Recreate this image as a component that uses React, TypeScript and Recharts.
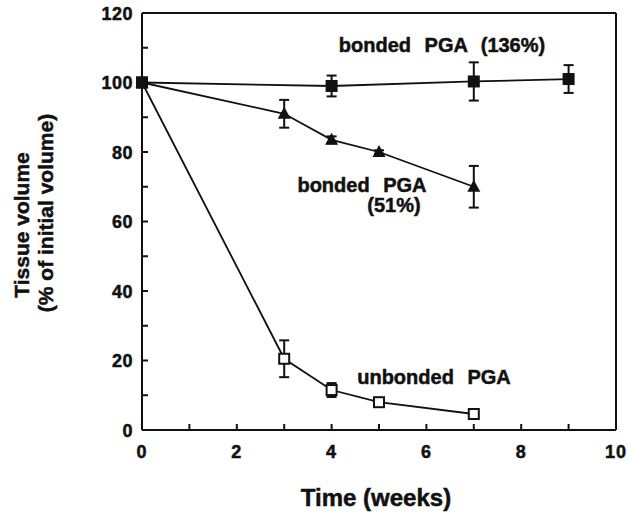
import React from 'react';
import { LineChart, Line, XAxis, YAxis, ErrorBar } from 'recharts';

// weeks after implantation
const bondedHighWeeks = [0, 4, 7, 9];
const bondedHighVolume = [100, 99, 100.3, 101];
const bondedHighErr = [0, 3, 5.5, 4];

const bondedLowWeeks = [0, 3, 4, 5, 7];
const bondedLowVolume = [100, 91, 83.5, 80, 70];
const bondedLowErr = [0, 4, 1, 0.5, 6];

const unbondedWeeks = [0, 3, 4, 5, 7];
const unbondedVolume = [100, 20.5, 11.5, 8, 4.6];
const unbondedErr = [0, 5.3, 2, 0, 0];

const xTicks = [0, 1, 2, 3, 4, 5, 6, 7, 8, 9, 10];
const yTicks = [0, 10, 20, 30, 40, 50, 60, 70, 80, 90, 100, 110, 120];

const toRows = (xs: number[], ys: number[], errs: number[]) =>
  xs.map((x, i) => ({ x, y: ys[i], err: errs[i] }));

const bondedHigh = toRows(bondedHighWeeks, bondedHighVolume, bondedHighErr);
const bondedLow = toRows(bondedLowWeeks, bondedLowVolume, bondedLowErr);
const unbonded = toRows(unbondedWeeks, unbondedVolume, unbondedErr);

const FONT = '"Liberation Sans", Arial, Helvetica, sans-serif';
const INK = '#111';

const FilledSquare = (p: any) => {
  const { cx, cy } = p;
  if (cx == null || cy == null) return null;
  return <rect x={cx - 6} y={cy - 6} width={12} height={12} fill={INK} />;
};

const FilledTriangle = (p: any) => {
  const { cx, cy } = p;
  if (cx == null || cy == null) return null;
  return <polygon points={`${cx},${cy - 7} ${cx - 6.5},${cy + 5} ${cx + 6.5},${cy + 5}`} fill={INK} />;
};

const OpenSquare = (p: any) => {
  const { cx, cy } = p;
  if (cx == null || cy == null) return null;
  return <rect x={cx - 5} y={cy - 5} width={10} height={10} fill="#fff" stroke={INK} strokeWidth={2} />;
};

// heavier than plain bold, like the scanned figure
const heavy = { fontFamily: FONT, fontWeight: 'bold' as const, fill: INK, stroke: INK, strokeWidth: 0.5 };

// ticks point into the plot; labels only on the major ones
const BottomTick = (p: any) => {
  const { x, y, payload } = p;
  return (
    <g>
      <line x1={x} y1={y} x2={x} y2={y - 6} stroke={INK} strokeWidth={2} />
      {payload.value % 2 === 0 && (
        <text x={x} y={y + 28} textAnchor="middle" fontSize={18} letterSpacing={1} {...heavy}>
          {payload.value}
        </text>
      )}
    </g>
  );
};

const LeftTick = (p: any) => {
  const { x, y, payload } = p;
  return (
    <g>
      <line x1={x} y1={y} x2={x + 6} y2={y} stroke={INK} strokeWidth={2} />
      {payload.value % 20 === 0 && (
        <text x={x - 9} y={y + 6.5} textAnchor="end" fontSize={18} letterSpacing={0.5} {...heavy}>
          {payload.value}
        </text>
      )}
    </g>
  );
};

const TopTick = (p: any) => {
  const { x, y } = p;
  return <line x1={x} y1={y} x2={x} y2={y + 6} stroke={INK} strokeWidth={2} />;
};

const RightTick = (p: any) => {
  const { x, y } = p;
  return <line x1={x} y1={y} x2={x - 6} y2={y} stroke={INK} strokeWidth={2} />;
};

const axisLine = { stroke: INK, strokeWidth: 2 };

const App = () => {
  return (
    <div style={{ position: 'absolute', left: 0, top: 0, width: 630, height: 519, background: '#fff' }}>
      <LineChart width={630} height={519} margin={{ top: 3, right: 4, bottom: 49, left: 82 }}>
        <XAxis
          type="number"
          dataKey="x"
          domain={[0, 10]}
          ticks={xTicks}
          interval={0}
          height={40}
          tickSize={0}
          tickMargin={0}
          tickLine={false}
          axisLine={axisLine}
          tick={BottomTick}
        />
        <XAxis
          xAxisId="top"
          orientation="top"
          type="number"
          dataKey="x"
          domain={[0, 10]}
          ticks={xTicks}
          interval={0}
          height={10}
          tickSize={0}
          tickMargin={0}
          tickLine={false}
          axisLine={axisLine}
          tick={TopTick}
        />
        <YAxis
          type="number"
          domain={[0, 120]}
          ticks={yTicks}
          interval={0}
          width={60}
          tickSize={0}
          tickMargin={0}
          tickLine={false}
          axisLine={axisLine}
          tick={LeftTick}
        />
        <YAxis
          yAxisId="right"
          orientation="right"
          type="number"
          domain={[0, 120]}
          ticks={yTicks}
          interval={0}
          width={10}
          tickSize={0}
          tickMargin={0}
          tickLine={false}
          axisLine={axisLine}
          tick={RightTick}
        />
        <Line data={unbonded} dataKey="y" type="linear" stroke={INK} strokeWidth={1.8} dot={OpenSquare} isAnimationActive={false}>
          <ErrorBar dataKey="err" direction="y" width={5} stroke={INK} strokeWidth={2} />
        </Line>
        <Line data={bondedLow} dataKey="y" type="linear" stroke={INK} strokeWidth={1.8} dot={FilledTriangle} isAnimationActive={false}>
          <ErrorBar dataKey="err" direction="y" width={5} stroke={INK} strokeWidth={2} />
        </Line>
        <Line data={bondedHigh} dataKey="y" type="linear" stroke={INK} strokeWidth={1.8} dot={FilledSquare} isAnimationActive={false}>
          <ErrorBar dataKey="err" direction="y" width={5} stroke={INK} strokeWidth={2} />
        </Line>
      </LineChart>
      <svg width={630} height={519} style={{ position: 'absolute', left: 0, top: 0, pointerEvents: 'none' }}>
        <g {...heavy}>
          <text x={442} y={52} textAnchor="middle" fontSize={20} wordSpacing={8}>bonded PGA (136%)</text>
          <text x={362} y={192} textAnchor="middle" fontSize={20} wordSpacing={8}>bonded PGA</text>
          <text x={394} y={212} textAnchor="middle" fontSize={20}>(51%)</text>
          <text x={434} y={384} textAnchor="middle" fontSize={20} wordSpacing={8}>unbonded PGA</text>
          <text x={376} y={506} textAnchor="middle" fontSize={24}>Time (weeks)</text>
          <text transform="translate(29,225) rotate(-90)" textAnchor="middle" fontSize={21}>Tissue volume</text>
          <text transform="translate(53,213) rotate(-90)" textAnchor="middle" fontSize={21}>(% of initial volume)</text>
        </g>
      </svg>
    </div>
  );
};

export default App;
